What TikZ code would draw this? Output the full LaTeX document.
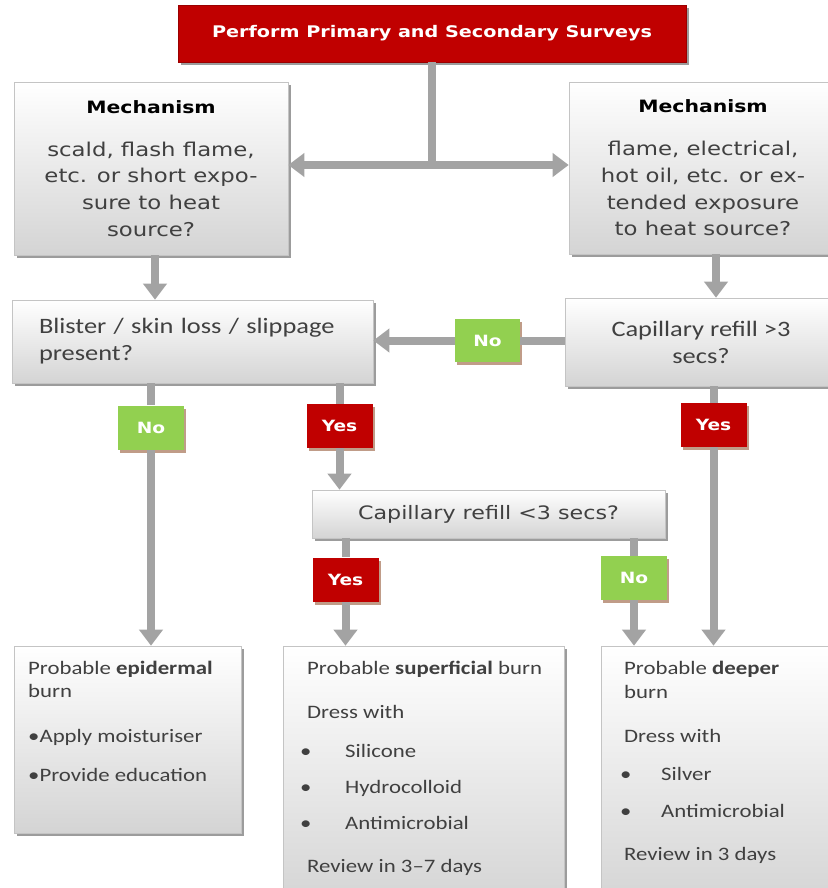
\documentclass[tikz,border=0pt]{standalone}
\usepackage{fontspec}
\setmainfont{Carlito}[FakeStretch=1.2]
\newfontfamily\vfont{DejaVu Sans}[FakeStretch=1.2]
\usetikzlibrary{arrows.meta,shadows,calc}
\definecolor{yesred}{HTML}{C00000}
\definecolor{nogreen}{HTML}{92D050}
\definecolor{conncol}{HTML}{A3A3A3}
\definecolor{boxline}{HTML}{C4C4C4}
\definecolor{boxbot}{HTML}{D4D4D4}
\definecolor{bodytext}{HTML}{404040}
\definecolor{boxshadow}{HTML}{9C9C9C}
\definecolor{labshadow}{HTML}{C09C88}
\tikzset{
  box/.style={rectangle, draw=boxline, line width=0.6pt, top color=white, bottom color=boxbot,
    drop shadow={shadow xshift=3pt, shadow yshift=-3pt, fill=boxshadow, opacity=1},
    inner sep=0pt, text=bodytext},
  titlebox/.style={rectangle, fill=yesred, draw=yesred!80!black, line width=0.4pt,
    drop shadow={shadow xshift=3pt, shadow yshift=-3pt, fill=boxshadow, opacity=1},
    text=white, font=\vfont\bfseries\fontsize{16}{19}\selectfont,
    minimum width=508pt, minimum height=57pt, inner sep=0pt},
  lab/.style={rectangle, minimum width=66pt, minimum height=44pt, inner sep=0pt, text=white,
    font=\vfont\bfseries\fontsize{15.5}{18}\selectfont,
    drop shadow={shadow xshift=2pt, shadow yshift=-3pt, fill=labshadow, opacity=1}},
  yeslab/.style={lab, fill=yesred},
  nolab/.style={lab, fill=nogreen},
  conn/.style={draw=conncol, line width=8pt},
  arr/.style={conn, -{Triangle[width=23pt,length=16pt]}},
  mech/.style={box, align=center, font=\vfont\fontsize{19}{26.7}\selectfont},
  btxt/.style={anchor=north west, inner sep=0pt, align=left, text=bodytext,
    font=\fontsize{19}{23}\selectfont},
}
\begin{document}
\begin{tikzpicture}[x=1pt,y=-1pt]
\useasboundingbox (0,0) rectangle (827,888);

\node[titlebox] (top) at (432,33.5) {Perform Primary and Secondary Surveys};

\node[mech, minimum width=274pt, minimum height=173pt] (lmech) at (151,168.5)
  {{\bfseries\color{black}\fontsize{17}{20}\selectfont Mechanism}\\[16pt]
   scald, flash flame,\\ etc. or short expo-\\ sure to heat\\ source?};
\node[mech, minimum width=268pt, minimum height=172pt] (rmech) at (703,168)
  {{\bfseries\color{black}\fontsize{17}{20}\selectfont Mechanism}\\[16pt]
   flame, electrical,\\ hot oil, etc. or ex-\\ tended exposure\\ to heat source?};

\node[box, text width=307pt, inner xsep=27pt, minimum height=83pt, align=left,
  font=\fontsize{22}{27}\selectfont] (blister) at (192.5,341.5)
  {Blister / skin loss / slippage\\ present?};
\node[box, minimum width=272pt, minimum height=88pt, align=center,
  font=\fontsize{22}{27}\selectfont] (capgt) at (701,342)
  {Capillary refill >3\\ secs?};
\node[box, minimum width=353pt, minimum height=48pt,
  font=\vfont\fontsize{18.5}{22}\selectfont] (caplt) at (488.5,514)
  {Capillary refill <3 secs?};

\node[box, minimum width=227pt, minimum height=187pt] (epi) at (127.5,739.5) {};
\node[box, minimum width=281pt, minimum height=260pt] (sup) at (423.5,776) {};
\node[box, minimum width=240pt, minimum height=260pt] (deep) at (721,776) {};

\node[btxt] (epit) at (28,661)
  {Probable \textbf{epidermal}\\ burn\\[22pt]
   \textbullet Apply moisturiser\\[16pt]
   \textbullet Provide education};
\node[btxt] (supt) at (300,661)
  {\hspace*{7pt}Probable \textbf{superficial} burn\\[21pt]
   \hspace*{7pt}Dress with\\[16pt]
   \makebox[45pt][l]{\textbullet}Silicone\\[13pt]
   \makebox[45pt][l]{\textbullet}Hydrocolloid\\[13pt]
   \makebox[45pt][l]{\textbullet}Antimicrobial\\[20pt]
   \hspace*{7pt}Review in 3--7 days};
\node[btxt] (deept) at (620,661)
  {\hspace*{4pt}Probable \textbf{deeper}\\[1pt]
   \hspace*{4pt}burn\\[21pt]
   \hspace*{4pt}Dress with\\[15pt]
   \makebox[41pt][l]{\textbullet}Silver\\[14pt]
   \makebox[41pt][l]{\textbullet}Antimicrobial\\[20pt]
   \hspace*{4pt}Review in 3 days};

\node[nolab] (n1) at (151,427.5) {No};
\node[yeslab] (y1) at (339.5,426) {Yes};
\node[yeslab] (y2) at (713.5,425) {Yes};
\node[nolab, minimum width=65pt, minimum height=43pt] (n2) at (487.5,340.5) {No};
\node[yeslab] (y3) at (345.5,579.5) {Yes};
\node[nolab] (n3) at (634,578) {No};

\coordinate (split) at (432,165);
\coordinate (ax) at (155,0);
\coordinate (bx) at (716,0);

\draw[conn] (top.south) -- (split);
\draw[conn, {Triangle[width=23pt,length=16pt]}-{Triangle[width=23pt,length=16pt]}]
  (split -| lmech.east) -- (split -| rmech.west);
\draw[arr] (lmech.south -| ax) -- (blister.north -| ax);
\draw[arr] (rmech.south -| bx) -- (capgt.north -| bx);
\draw[conn] (n2.east -| capgt.west) -- (n2.east);
\draw[arr] (n2.west) -- (n2.west -| blister.east);
\draw[conn] (blister.south -| n1) -- (n1.north);
\draw[arr] (n1.south) -- (n1.south |- epi.north);
\draw[conn] (blister.south -| y1) -- (y1.north);
\draw[arr] (y1.south) -- (y1.south |- caplt.north);
\draw[conn] (capgt.south -| y2) -- (y2.north);
\draw[arr] (y2.south) -- (y2.south |- deep.north);
\draw[conn] (caplt.south -| y3) -- (y3.north);
\draw[arr] (y3.south) -- (y3.south |- sup.north);
\draw[conn] (caplt.south -| n3) -- (n3.north);
\draw[arr] (n3.south) -- (n3.south |- deep.north);
\end{tikzpicture}
\end{document}
